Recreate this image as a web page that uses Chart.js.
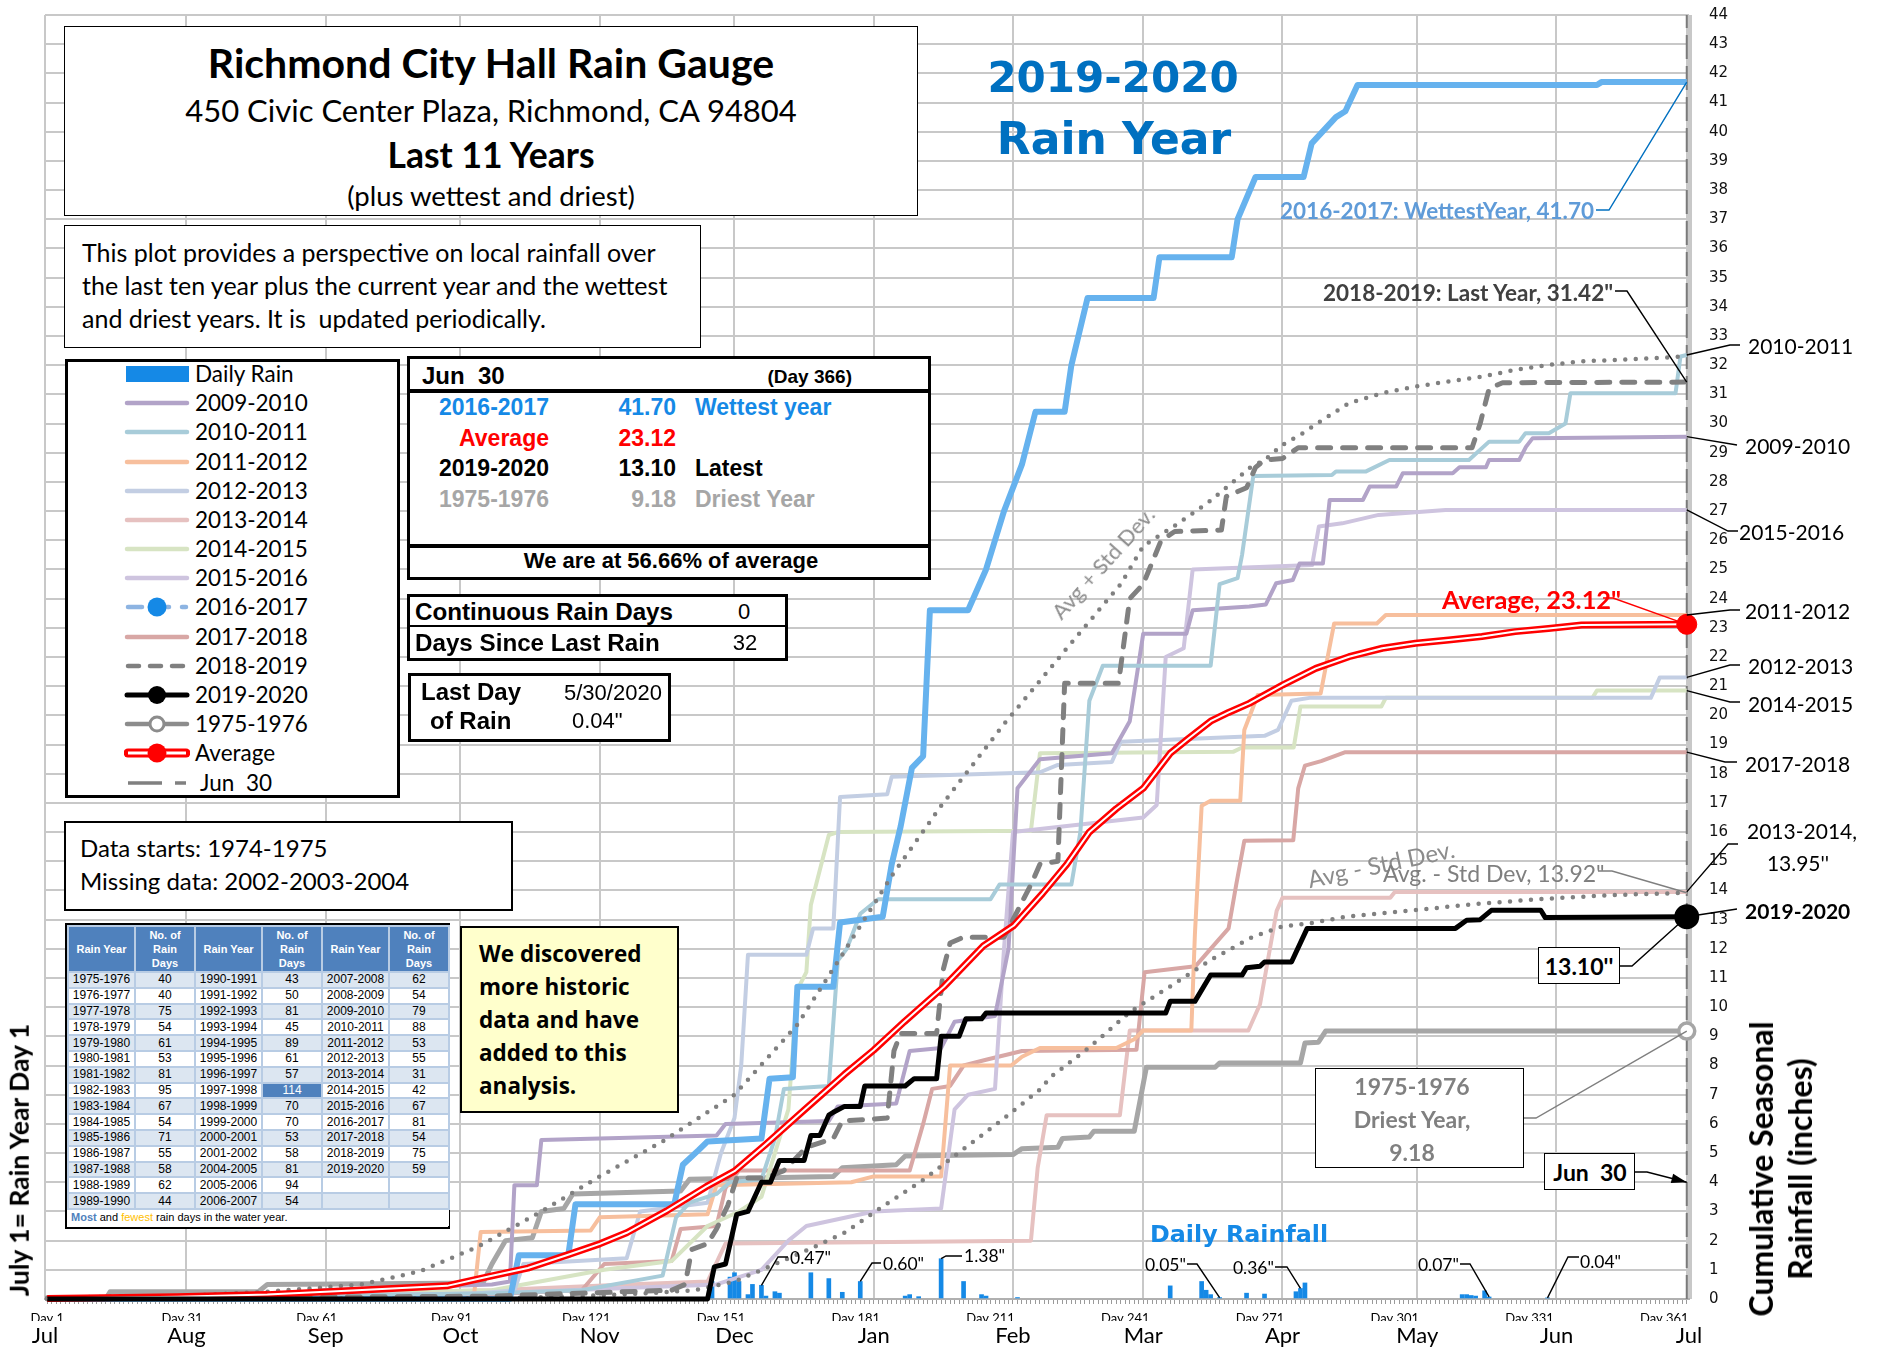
<!DOCTYPE html>
<html>
<head>
<meta charset="utf-8">
<title>Richmond City Hall Rain Gauge 2019-2020</title>
<script src="https://cdn.jsdelivr.net/npm/chart.js@4.4.1/dist/chart.umd.min.js"></script>
<style>
  body { margin: 0; background: #fff; }
  #page { position: relative; width: 1880px; height: 1356px; overflow: hidden; font-family: Lato, sans-serif; color: #000; }
  #chart { position: absolute; left: 0; top: 0; }
  .box { position: absolute; background: #fff; border: 1.5px solid #000; box-sizing: border-box; }
  .thick { border-width: 3px; }
  .t { position: absolute; white-space: pre; line-height: 1; }
  .rule { position: absolute; background: #000; }
  #legend .row { position: absolute; left: 0; height: 24px; width: 330px; }
  #legend svg { position: absolute; left: 56px; top: 0; }
  #legend span { position: absolute; left: 127px; top: 0; font-size: 22.5px; line-height: 24px; white-space: pre; }
  #tbl { position: absolute; left: 65px; top: 923px; width: 385px; height: 306px; border: 2px solid #000; box-sizing: border-box; background: #fff; }
  #tbl table { border-collapse: collapse; width: 100%; table-layout: fixed; font-family: 'Liberation Sans', Arial, sans-serif; font-size: 12px; }
  #tbl th { background: #4f81bd; color: #fff; font-size: 11px; line-height: 14px; height: 44px; padding: 0; border: 2px solid #b8cce4; }
  #tbl td { height: 13.8px; line-height: 13px; padding: 0; text-align: center; border: 2px solid #b8cce4; }
  #tbl tr.odd td { background: #dce6f1; }
  #tbl td.most { background: #4f81bd; color: #fff; }
  #tbl td.fewest { background: #ffc000; }
  #tbl td.foot { text-align: left; padding-left: 3px; font-size: 11px; background: #fff; border: none; height: 16px; }
</style>
</head>
<body>
<div id="page">
  <canvas id="chart" width="1880" height="1356"></canvas>

  <div class="box" style="left:64px;top:26px;width:854px;height:190px;"></div>
  <div class="box" style="left:64px;top:225px;width:637px;height:123px;"></div>
  <div class="box thick" id="legend" style="left:65px;top:359px;width:335px;height:439px;"></div>
  <div class="box thick" style="left:407px;top:356px;width:524px;height:224px;"></div>
  <div class="rule" style="left:410px;top:389px;width:518px;height:4px;"></div>
  <div class="rule" style="left:410px;top:544px;width:518px;height:4px;"></div>
  <div class="box thick" style="left:407px;top:594px;width:381px;height:67px;"></div>
  <div class="rule" style="left:410px;top:625px;width:375px;height:2px;"></div>
  <div class="box thick" style="left:408px;top:673px;width:263px;height:69px;"></div>
  <div class="box" style="left:64px;top:821px;width:449px;height:90px;border-width:2.5px;"></div>
  <div id="tbl"></div>
  <div class="box" style="left:460px;top:926px;width:219px;height:187px;background:#ffffcc;border-width:2px;"></div>
  <div class="box" style="left:1538px;top:947px;width:82px;height:37px;"></div>
  <div class="box" style="left:1315px;top:1068px;width:209px;height:100px;"></div>
  <div class="box" style="left:1544px;top:1153px;width:91px;height:37px;"></div>
</div>

<script>
// ---------- values ----------
const monthNames = ['Jul', 'Aug', 'Sep', 'Oct', 'Nov', 'Dec', 'Jan', 'Feb', 'Mar', 'Apr', 'May', 'Jun', 'Jul'];
const monthStartDays = [0.5, 32, 63, 93, 124, 154, 185, 216, 245, 276, 306, 337, 366.5];
const dayLabelDays = [1, 31, 61, 91, 121, 151, 181, 211, 241, 271, 301, 331, 361];

// cumulative seasonal rainfall, [rain-year day, inches]
const y1975_76 = [[1,0],[14,0],[15,0.25],[48,0.25],[50,0.5],[98,0.55],[100,1.2],[103,2.0],[109,2.1],[111,3.0],[116,3.1],[118,3.6],[142,3.7],[144,4.1],[176,4.2],[178,4.5],[190,4.6],[192,4.9],[216,4.95],[218,5.15],[226,5.2],[227,5.5],[233,5.55],[234,5.75],[243,5.75],[245.7,7.94],[261,7.94],[262,8.09],[280,8.09],[281,8.77],[284,8.8],[285.6,9.18],[366,9.18]];
const y2009_10 = [[1,0],[60,0],[62,0.3],[100,0.5],[104,0.6],[105,3.9],[110,3.9],[111,5.45],[150,5.6],[152,6.0],[175,6.1],[177,6.6],[190,6.7],[193,8.5],[200,8.6],[203,9.5],[212,9.7],[215,12],[217,17.5],[222,18.5],[238,18.7],[242,19.8],[245,22.8],[254.6,22.8],[256,23.6],[268.6,23.73],[272.3,23.8],[274.6,24.53],[278.3,24.64],[279.8,25.2],[285,25.2],[286.5,27.38],[293.9,27.38],[295.4,27.84],[301.3,27.84],[302.8,28.3],[313.9,28.3],[315.4,28.5],[321.3,28.5],[322,28.75],[328.7,28.75],[330.2,29.2],[331.7,29.5],[366,29.55]];
const y2010_11 = [[1,0],[60,0.1],[100,0.2],[120,0.3],[138,0.8],[141,2.8],[144,3.3],[150,3.6],[153,4.0],[160,4.1],[163,5.5],[165,7.2],[175,7.3],[177,11.6],[179,12.0],[182,13.2],[186,13.7],[211,13.7],[213,14.2],[229,14.2],[231,16.0],[233,20.5],[236,21.7],[260,21.7],[262,24.5],[266,24.7],[267,25.5],[269.5,28.2],[287,28.24],[287.9,28.36],[294.6,28.36],[299.8,28.75],[317.5,28.75],[322,29.38],[328.7,29.38],[330.1,29.67],[335.3,29.67],[339,30.0],[340.1,31.04],[363.5,31.04],[364.6,32.3],[366,32.35]];
const y2011_12 = [[1,0],[60,0.05],[96,0.1],[97.5,2.3],[122,2.35],[124,2.8],[148,2.9],[150,3.9],[180,4.0],[185,4.2],[200,4.2],[202,8.0],[215.6,8.0],[218,8.3],[222,8.6],[239,8.6],[243,8.9],[245,9.2],[255.7,9.2],[256.5,12.5],[258,16.9],[260,17.07],[266.6,17.07],[267.5,19.5],[270.5,20.7],[284.5,20.75],[287.5,23.15],[297,23.15],[299,23.44],[366,23.44]];
const y2012_13 = [[1,0],[90,0.1],[105,0.3],[107,1.2],[130,1.4],[133,3.0],[148,3.3],[151,5.0],[154,6.2],[155.5,8],[157,11.8],[170,11.8],[171.5,12.7],[176,12.7],[177.5,17.2],[188,17.3],[189,17.9],[222,18.05],[226,18.3],[238,18.4],[240,19.1],[272,19.3],[275,19.5],[278,20.5],[282,20.6],[358,20.6],[360,21.3],[366,21.3]];
const y2013_14 = [[1,0],[100,0.3],[130,0.5],[148,0.6],[152,1.9],[220,2.0],[221.5,4.5],[223.5,6.3],[239.8,6.3],[242,9.2],[268.4,9.2],[271,10.1],[274.7,13.3],[276,13.75],[300,13.75],[301,13.95],[366,13.95]];
const y2014_15 = [[1,0],[100,0.3],[125,1.0],[140,1.3],[148,2.5],[155,3.0],[160,3.5],[163,5.0],[166,6.5],[168,10.6],[170,11.2],[171,13.5],[173,14.7],[175,15.9],[177,16.0],[220,16.05],[222,18.7],[265,18.75],[267,18.9],[278.5,18.9],[280,20.3],[298,20.3],[299,20.6],[345,20.6],[346,20.85],[366,20.85]];
const y2015_16 = [[1,0],[100,0.2],[150,0.5],[160,1.0],[166,2.0],[170,2.5],[185,3.0],[200,3.1],[203,6.5],[206,7.0],[212,7.2],[214,12],[216,16.0],[245,16.5],[248,16.93],[250,22.0],[254,22.3],[256,25.0],[282.6,25.15],[284.1,26.47],[289.3,26.58],[297.4,26.87],[312.3,27.04],[366,27.04]];
const y2016_17 = [[1,0],[104,0],[106,1.5],[117,1.5],[118.6,3.25],[140.6,3.25],[142.5,4.6],[146,5.1],[148,5.4],[160,5.5],[161.8,7.55],[167,7.6],[168,10.7],[176,10.7],[177.5,12.9],[187,13.1],[189,14.9],[191,16.2],[193.5,18.2],[196,18.6],[197.5,23.6],[206,23.6],[210,25.0],[214,27.0],[218,28.6],[221,30.4],[227.5,30.4],[229,32.0],[232.6,34.3],[247.3,34.3],[248.6,35.7],[264.7,35.7],[266,37.0],[270,38.45],[280.7,38.45],[282.5,39.6],[287.9,40.5],[290,40.7],[292.7,41.6],[346,41.6],[347,41.7],[366,41.7]];
const y2017_18 = [[1,0],[90,0.1],[120,0.3],[125,1.2],[140,1.3],[142,2.4],[150,2.5],[152,3.8],[155,4.4],[193,4.4],[196,6.0],[198,7.2],[202,7.3],[205,8.0],[210,8.2],[218,8.5],[243.5,8.54],[245.3,11.2],[256.6,11.4],[260,12.0],[264,12.7],[265.7,14.2],[267.5,15.7],[278.4,15.72],[279.5,17.5],[281,18.28],[284.6,18.43],[290,18.74],[366,18.74]];
const y2018_19 = [[1,0],[100,0.1],[140,0.3],[143,0.5],[144.5,1.7],[148,1.9],[150,2.4],[152.5,3.2],[154.5,4.15],[161,4.15],[165,4.4],[170,5.2],[176,5.5],[178,6.1],[188,6.2],[189.5,8.5],[191,9.1],[199,9.1],[200.5,11.3],[202,12.2],[205,12.4],[214,12.4],[216,13.0],[220,14.2],[222,14.9],[226,15.0],[227.5,21.1],[239.5,21.1],[242,24.0],[245,24.5],[249,26.0],[252,26.3],[262.4,26.35],[263.5,27.5],[268,27.8],[270,28.5],[272,28.75],[276,28.8],[279.5,29.17],[318.2,29.17],[320,30.0],[322,31.2],[325,31.4],[366,31.42]];
const y2019_20 = [[1,0],[148,0],[149.5,1.1],[152,1.2],[154.5,2.9],[157,3.0],[160,4.0],[162,4.0],[164,4.75],[169.5,4.75],[171,5.6],[173,5.6],[175,6.3],[176,6.4],[178.5,6.6],[182,6.6],[183,7.3],[192,7.3],[194,7.55],[199,7.55],[200,9.0],[204,9.0],[205.5,9.6],[209,9.6],[210,9.8],[250,9.8],[251,10.2],[256.5,10.2],[260,11.1],[267,11.1],[268,11.35],[271,11.4],[272,11.55],[278,11.55],[281.5,12.7],[314.5,12.7],[317,12.98],[320,13.0],[322.5,13.32],[333.5,13.32],[334.5,13.07],[366,13.1]];
const avgSeason = [[1,0.02],[30,0.08],[50,0.15],[70,0.3],[90,0.45],[99,0.76],[108,1.06],[116.8,1.51],[124,1.89],[130,2.27],[138.9,3.02],[147.7,3.85],[154,4.38],[160.9,5.29],[169.7,6.5],[178.5,7.7],[185,8.53],[191.8,9.5],[200.6,10.7],[209.4,12.1],[216.2,12.8],[222.6,13.9],[228,14.9],[233,16.0],[239,16.8],[245,17.5],[251,18.7],[255,19.2],[260,19.8],[264,20.1],[268.6,20.41],[276,21.04],[283.4,21.61],[290.8,22.01],[298.2,22.3],[305.6,22.47],[313,22.58],[320.4,22.7],[327.8,22.87],[335.2,22.98],[342.6,23.1],[366,23.12]];
const avgPlusSd = [[1,0.05],[30,0.1],[50,0.25],[71,0.5],[84,0.95],[97,1.8],[111,3.0],[124,4.2],[138,5.4],[154,7.0],[168,9.4],[178,11.8],[189,14.5],[200,16.9],[214,19.7],[228,22.3],[234,23.4],[240,24.5],[245,25.8],[252,26.5],[259.5,27.3],[266.6,28.2],[268.6,28.47],[272,28.75],[276,29.27],[280.5,29.67],[285,30.13],[290.8,30.7],[298.2,31.04],[305.6,31.27],[313,31.44],[320.4,31.61],[327.8,31.84],[335.2,32.01],[342.6,32.13],[350,32.18],[366,32.3]];
const avgMinusSd = [[1,0],[100,0.02],[120,0.1],[135,0.2],[145,0.3],[154,0.6],[161,1.06],[170,1.66],[178.5,2.27],[187,3.17],[196,4.08],[205,5.14],[214,6.19],[222.6,7.25],[224,7.56],[233,8.62],[242,9.83],[245,10.13],[251.2,10.73],[260.2,11.64],[269.3,12.4],[276,12.77],[282,12.87],[290,13.1],[305,13.32],[320,13.55],[335,13.72],[349,13.84],[366,13.92]];
const jun30Line = [[366,0],[366,44]];

// 2019-2020 daily rain
const dailyRainDays = [149, 153, 154, 155, 157, 158, 160, 161, 163, 164, 171, 175, 178, 182, 192, 193, 195, 200, 205, 209, 210, 217, 251, 258, 259, 260, 262, 268, 272, 279, 280, 281, 316, 317, 318, 319, 321, 322, 335];
const dailyRainInches = [0.6, 0.75, 0.9, 0.6, 0.15, 0.5, 0.47, 0.1, 0.25, 0.2, 0.9, 0.7, 0.23, 0.6, 0.1, 0.15, 0.08, 1.38, 0.6, 0.15, 0.1, 0.05, 0.45, 0.6, 0.3, 0.15, 0.05, 0.2, 0.17, 0.25, 0.36, 0.55, 0.15, 0.15, 0.12, 0.1, 0.28, 0.07, 0.04];

// rain days per water year (table)
const tableYears = ['1975-1976','1976-1977','1977-1978','1978-1979','1979-1980','1980-1981','1981-1982','1982-1983','1983-1984','1984-1985','1985-1986','1986-1987','1987-1988','1988-1989','1989-1990',
  '1990-1991','1991-1992','1992-1993','1993-1994','1994-1995','1995-1996','1996-1997','1997-1998','1998-1999','1999-2000','2000-2001','2001-2002','2004-2005','2005-2006','2006-2007',
  '2007-2008','2008-2009','2009-2010','2010-2011','2011-2012','2012-2013','2013-2014','2014-2015','2015-2016','2016-2017','2017-2018','2018-2019','2019-2020','',''];
const tableRainDays = [40,40,75,54,61,53,81,95,67,54,71,55,58,62,44,
  43,50,81,45,89,61,57,114,70,70,53,58,81,94,54,
  62,54,79,88,53,55,31,42,67,81,54,75,59,null,null];

// ---------- styles ----------
const dailyBlue = '#1589e6';
const st = {
  '1975-1976': { color: '#a6a6a6', width: 5 },
  '2009-2010': { color: '#b2a3c8', width: 4 },
  '2010-2011': { color: '#a8ccd9', width: 4 },
  '2011-2012': { color: '#f7bf9d', width: 4 },
  '2012-2013': { color: '#c3cee3', width: 4 },
  '2013-2014': { color: '#e6c1c0', width: 4 },
  '2014-2015': { color: '#d7e4c3', width: 4 },
  '2015-2016': { color: '#cec4df', width: 4 },
  '2016-2017': { color: '#66b2ee', width: 6 },
  '2017-2018': { color: '#d8a7a5', width: 4 },
  '2018-2019': { color: '#808080', width: 5, dash: [13, 12], cap: 'round' },
  '2019-2020': { color: '#000000', width: 5 },
};

const pts = s => s.map(([x, y]) => ({ x, y }));
const lastOf = s => s[s.length - 1];
const isLast = c => c.dataIndex === c.dataset.data.length - 1;

function lineSet(label, data, s, extra) {
  return Object.assign({
    type: 'line', label, data: pts(data),
    borderColor: s.color, borderWidth: s.width, borderDash: s.dash || [],
    borderCapStyle: s.cap || 'butt', borderJoinStyle: 'round',
    pointRadius: 0, fill: false, tension: 0, clip: false
  }, extra || {});
}

// first dataset is drawn on top
const datasets = [
  lineSet('2019-2020', y2019_20, st['2019-2020'], {
    pointRadius: c => isLast(c) ? 10 : 0, pointBackgroundColor: '#000', pointBorderColor: '#000'
  }),
  { type: 'line', label: 'Average marker', data: pts([lastOf(avgSeason)]), showLine: false,
    pointRadius: 10, pointBackgroundColor: '#ff0000', pointBorderColor: '#ff0000', clip: false },
  lineSet('Average inner', avgSeason, { color: '#ffffff', width: 2 }),
  lineSet('Average', avgSeason, { color: '#ff0000', width: 7 }),
  lineSet('2018-2019', y2018_19, st['2018-2019']),
  lineSet('Avg + Std Dev', avgPlusSd, { color: '#808080', width: 4.5, dash: [0, 10.5], cap: 'round' }),
  lineSet('Avg - Std Dev', avgMinusSd, { color: '#808080', width: 4.5, dash: [0, 10.5], cap: 'round' }),
  lineSet('2016-2017', y2016_17, st['2016-2017']),
  lineSet('2010-2011', y2010_11, st['2010-2011']),
  lineSet('2009-2010', y2009_10, st['2009-2010']),
  lineSet('2015-2016', y2015_16, st['2015-2016']),
  lineSet('2011-2012', y2011_12, st['2011-2012']),
  lineSet('2012-2013', y2012_13, st['2012-2013']),
  lineSet('2014-2015', y2014_15, st['2014-2015']),
  lineSet('2017-2018', y2017_18, st['2017-2018']),
  lineSet('2013-2014', y2013_14, st['2013-2014']),
  lineSet('1975-1976', y1975_76, st['1975-1976'], {
    pointRadius: c => isLast(c) ? 8 : 0, pointBorderWidth: 3.5,
    pointBackgroundColor: '#ffffff', pointBorderColor: '#a6a6a6'
  }),
  lineSet('Jun 30', jun30Line, { color: '#7a7a7a', width: 2, dash: [24, 7] }),
  { type: 'bar', label: 'Daily Rain', data: dailyRainDays.map((d, i) => ({ x: d, y: dailyRainInches[i] })),
    backgroundColor: dailyBlue, borderWidth: 0, barThickness: 4 }
];

// leader lines: pixel points near the label, then the data point they point at
const barAt = d => [d, dailyRainInches[dailyRainDays.indexOf(d)]];
const leaders = [
  { from: [[1596, 210], [1609, 210]], to: lastOf(y2016_17), color: '#0070c0' },
  { from: [[1615, 291], [1627, 291]], to: lastOf(y2018_19) },
  { from: [[1740, 345], [1730, 345]], to: lastOf(y2010_11) },
  { from: [[1737, 445]], to: lastOf(y2009_10) },
  { from: [[1738, 531], [1728, 531]], to: lastOf(y2015_16) },
  { from: [[1603, 598], [1613, 598]], to: lastOf(avgSeason), color: '#ff0000' },
  { from: [[1740, 610], [1730, 610]], to: lastOf(y2011_12) },
  { from: [[1740, 665], [1730, 665]], to: lastOf(y2012_13) },
  { from: [[1740, 702], [1730, 702]], to: lastOf(y2014_15) },
  { from: [[1737, 762], [1725, 762]], to: lastOf(y2017_18) },
  { from: [[1738, 844], [1728, 844]], to: lastOf(y2013_14) },
  { from: [[1598, 871], [1612, 871]], to: lastOf(avgMinusSd), color: '#7f7f7f' },
  { from: [[1737, 909]], to: lastOf(y2019_20) },
  { from: [[1620, 966], [1632, 966]], to: lastOf(y2019_20) },
  { from: [[1524, 1118], [1536, 1118]], to: lastOf(y1975_76), color: '#7f7f7f' },
  { from: [[1635, 1172], [1647, 1172]], to: [366, 4], arrow: true },
  { from: [[788, 1257], [778, 1257]], to: barAt(160) },
  { from: [[881, 1263], [872, 1263]], to: barAt(182) },
  { from: [[962, 1256], [946, 1256]], to: barAt(200) },
  { from: [[1187, 1264], [1197, 1264]], to: barAt(262) },
  { from: [[1275, 1267], [1287, 1267]], to: barAt(280) },
  { from: [[1460, 1264], [1470, 1264]], to: barAt(322) },
  { from: [[1579, 1257], [1568, 1257]], to: barAt(335) }
];

const leaderPlugin = {
  id: 'leaders',
  afterDatasetsDraw(chart) {
    const { ctx, scales } = chart;
    leaders.forEach(l => {
      const end = [scales.x.getPixelForValue(l.to[0]), scales.y.getPixelForValue(l.to[1])];
      const path = l.from.concat([end]);
      ctx.save();
      ctx.strokeStyle = l.color || '#000';
      ctx.fillStyle = l.color || '#000';
      ctx.lineWidth = 1.4;
      ctx.beginPath();
      path.forEach((p, i) => i ? ctx.lineTo(p[0], p[1]) : ctx.moveTo(p[0], p[1]));
      ctx.stroke();
      if (l.arrow) {
        const p = path[path.length - 2];
        const a = Math.atan2(end[1] - p[1], end[0] - p[0]);
        ctx.beginPath();
        ctx.moveTo(end[0], end[1]);
        ctx.lineTo(end[0] - 16 * Math.cos(a - 0.3), end[1] - 16 * Math.sin(a - 0.3));
        ctx.lineTo(end[0] - 16 * Math.cos(a + 0.3), end[1] - 16 * Math.sin(a + 0.3));
        ctx.closePath();
        ctx.fill();
      }
      ctx.restore();
    });
  }
};

new Chart(document.getElementById('chart').getContext('2d'), {
  type: 'line',
  data: { datasets },
  options: {
    responsive: false,
    animation: false,
    devicePixelRatio: 1,
    layout: { padding: { left: 45, top: 15, right: 0, bottom: 0 } },
    plugins: { legend: { display: false }, tooltip: { enabled: false } },
    scales: {
      x: {
        type: 'linear', position: 'bottom', min: 0.5, max: 366.5, offset: false, weight: 1,
        afterBuildTicks: a => { a.ticks = monthStartDays.map(v => ({ value: v })); },
        afterFit: a => { a.height = 35; },
        ticks: {
          autoSkip: false, maxRotation: 0, padding: 2, color: '#000',
          font: { family: 'Lato', size: 22 },
          callback: (v, i) => monthNames[i]
        },
        grid: {
          offset: false, drawTicks: false, color: '#c8c8c8',
          lineWidth: c => c.index === monthStartDays.length - 1 ? 6 : 2
        },
        border: { display: false }
      },
      xd: {
        type: 'linear', position: 'bottom', min: 0.5, max: 366.5, offset: false, weight: 0,
        afterBuildTicks: a => { a.ticks = Array.from({ length: 366 }, (_, i) => ({ value: i + 1 })); },
        afterFit: a => { a.height = 22; },
        ticks: {
          autoSkip: false, maxRotation: 0, padding: 7, color: '#000',
          font: { family: 'Lato', size: 13 },
          callback: v => dayLabelDays.includes(v) ? 'Day ' + v : ''
        },
        grid: { offset: false, drawOnChartArea: false, drawTicks: true, tickLength: 5, color: '#9a9a9a', lineWidth: 1 },
        border: { display: true, color: '#b0b0b0', width: 2 }
      },
      y: {
        type: 'linear', position: 'right', min: 0, max: 44,
        afterFit: a => { a.width = 191; },
        ticks: { stepSize: 1, padding: 0, color: '#111', font: { family: 'DejaVu Sans', size: 15 } },
        grid: { drawTicks: true, tickLength: 20, tickColor: 'rgba(0,0,0,0)', color: '#c8c8c8', lineWidth: 2 },
        border: { display: false }
      }
    }
  },
  plugins: [leaderPlugin]
});

// ---------- text overlays ----------
const page = document.getElementById('page');
function note(n) {
  const el = document.createElement('div');
  el.className = 't';
  el.textContent = n.t;
  el.style.left = n.x + 'px';
  el.style.top = n.y + 'px';
  el.style.fontSize = (n.s || 21) + 'px';
  el.style.fontFamily = n.f || 'Lato';
  el.style.fontWeight = n.w || 400;
  el.style.color = n.c || '#000';
  const shift = n.a === 'c' ? 'translate(-50%,-50%)' : n.a === 'r' ? 'translate(-100%,-50%)' : 'translateY(-50%)';
  el.style.transform = shift + (n.rot ? ' rotate(' + n.rot + 'deg)' : '');
  if (n.lh) el.style.lineHeight = n.lh + 'px';
  if (n.a === 'c') el.style.textAlign = 'center';
  page.appendChild(el);
}

const arial = "'Liberation Sans', Arial, sans-serif";
const dejavu = "'DejaVu Sans', Verdana, sans-serif";
const notes = [
  // title box
  { t: 'Richmond City Hall Rain Gauge', x: 491, y: 62, s: 41, w: 700, a: 'c' },
  { t: '450 Civic Center Plaza, Richmond, CA 94804', x: 491, y: 110, s: 31, a: 'c' },
  { t: 'Last 11 Years', x: 491, y: 155, s: 35.5, w: 700, a: 'c' },
  { t: '(plus wettest and driest)', x: 491, y: 196, s: 27.5, a: 'c' },
  // description
  { t: 'This plot provides a perspective on local rainfall over', x: 82, y: 252, s: 25 },
  { t: 'the last ten year plus the current year and the wettest', x: 82, y: 285, s: 25 },
  { t: 'and driest years. It is  updated periodically.', x: 82, y: 318, s: 25 },
  // big heading
  { t: '2019-2020', x: 1113, y: 78, s: 42, f: dejavu, w: 700, c: '#0070c0', a: 'c' },
  { t: 'Rain Year', x: 1114, y: 139, s: 44, f: dejavu, w: 700, c: '#0070c0', a: 'c' },
  // Jun 30 summary box
  { t: 'Jun  30', x: 422, y: 376, s: 24, f: arial, w: 700 },
  { t: '(Day 366)', x: 852, y: 376, s: 19, f: arial, w: 700, a: 'r' },
  { t: '2016-2017', x: 549, y: 407, s: 23, f: arial, w: 700, c: dailyBlue, a: 'r' },
  { t: '41.70', x: 676, y: 407, s: 23, f: arial, w: 700, c: dailyBlue, a: 'r' },
  { t: 'Wettest year', x: 695, y: 407, s: 23, f: arial, w: 700, c: dailyBlue },
  { t: 'Average', x: 549, y: 438, s: 23, f: arial, w: 700, c: '#ff0000', a: 'r' },
  { t: '23.12', x: 676, y: 438, s: 23, f: arial, w: 700, c: '#ff0000', a: 'r' },
  { t: '2019-2020', x: 549, y: 468, s: 23, f: arial, w: 700, a: 'r' },
  { t: '13.10', x: 676, y: 468, s: 23, f: arial, w: 700, a: 'r' },
  { t: 'Latest', x: 695, y: 468, s: 23, f: arial, w: 700 },
  { t: '1975-1976', x: 549, y: 499, s: 23, f: arial, w: 700, c: '#a6a6a6', a: 'r' },
  { t: '9.18', x: 676, y: 499, s: 23, f: arial, w: 700, c: '#a6a6a6', a: 'r' },
  { t: 'Driest Year', x: 695, y: 499, s: 23, f: arial, w: 700, c: '#a6a6a6' },
  { t: 'We are at 56.66% of average', x: 671, y: 561, s: 22, f: arial, w: 700, a: 'c' },
  { t: 'Continuous Rain Days', x: 415, y: 612, s: 24.2, f: arial, w: 700 },
  { t: '0', x: 744, y: 612, s: 22, f: arial, a: 'c' },
  { t: 'Days Since Last Rain', x: 415, y: 643, s: 24.2, f: arial, w: 700 },
  { t: '32', x: 745, y: 643, s: 22, f: arial, a: 'c' },
  { t: 'Last Day', x: 421, y: 692, s: 24, f: arial, w: 700 },
  { t: 'of Rain', x: 430, y: 721, s: 24, f: arial, w: 700 },
  { t: '5/30/2020', x: 564, y: 693, s: 22, f: arial },
  { t: '0.04"', x: 572, y: 721, s: 22, f: arial },
  // data notes
  { t: 'Data starts: 1974-1975', x: 80, y: 848, s: 24 },
  { t: 'Missing data: 2002-2003-2004', x: 80, y: 881, s: 24 },
  { t: 'We discovered\nmore historic\ndata and have\nadded to this\nanalysis.', x: 479, y: 1019, s: 22.5, f: "'Open Sans', sans-serif", w: 700, lh: 33 },
  // axis titles
  { t: 'July 1= Rain Year Day 1', x: 19, y: 1160, s: 26.5, w: 700, a: 'c', rot: -90 },
  { t: 'Cumulative Seasonal\nRainfall (inches)', x: 1780, y: 1169, s: 32, w: 700, a: 'c', rot: -90, lh: 39 },
  // right-hand series names
  { t: '2010-2011', x: 1748, y: 345 },
  { t: '2009-2010', x: 1745, y: 445 },
  { t: '2015-2016', x: 1739, y: 531 },
  { t: '2011-2012', x: 1745, y: 610 },
  { t: '2012-2013', x: 1748, y: 665 },
  { t: '2014-2015', x: 1748, y: 703 },
  { t: '2017-2018', x: 1745, y: 763 },
  { t: '2013-2014,', x: 1747, y: 830 },
  { t: "13.95''", x: 1798, y: 862, a: 'c' },
  { t: '2019-2020', x: 1745, y: 910, w: 700 },
  // callouts
  { t: '2016-2017: WettestYear, 41.70', x: 1280, y: 211, s: 22.5, c: '#5f9bd8', w: 700 },
  { t: '2018-2019: Last Year, 31.42"', x: 1323, y: 293, s: 22.5, c: '#404040', w: 700 },
  { t: 'Average, 23.12"', x: 1442, y: 600, s: 25.4, c: '#ff0000', w: 700 },
  { t: 'Avg + Std Dev.', x: 1103, y: 563, s: 22, c: '#8c8c8c', a: 'c', rot: -48 },
  { t: 'Avg - Std Dev.', x: 1381, y: 864, s: 24, c: '#8c8c8c', a: 'c', rot: -12 },
  { t: 'Avg. - Std Dev, 13.92"', x: 1383, y: 873, s: 23, c: '#7f7f7f' },
  { t: "13.10''", x: 1579, y: 966, s: 23, w: 700, a: 'c' },
  { t: '1975-1976\nDriest Year,\n9.18', x: 1412, y: 1119, s: 23, w: 700, c: '#808080', a: 'c', lh: 33 },
  { t: 'Jun  30', x: 1590, y: 1172, s: 23, w: 700, a: 'c' },
  { t: 'Daily Rainfall', x: 1150, y: 1235, s: 23.8, f: dejavu, w: 700, c: dailyBlue },
  { t: '0.47"', x: 790, y: 1258, s: 17.5 },
  { t: '0.60"', x: 883, y: 1264, s: 17.5 },
  { t: '1.38"', x: 964, y: 1256, s: 17.5 },
  { t: '0.05"', x: 1186, y: 1265, s: 17.5, a: 'r' },
  { t: '0.36"', x: 1274, y: 1268, s: 17.5, a: 'r' },
  { t: '0.07"', x: 1459, y: 1265, s: 17.5, a: 'r' },
  { t: '0.04"', x: 1580, y: 1262, s: 17.5 }
];
notes.forEach(note);

// ---------- legend ----------
const legendRows = [
  ['Daily Rain', '<rect x="2" y="4" width="63" height="16" fill="' + dailyBlue + '"/>'],
  ['2009-2010'], ['2010-2011'], ['2011-2012'], ['2012-2013'], ['2013-2014'], ['2014-2015'], ['2015-2016'],
  ['2016-2017', '<line x1="4" y1="12" x2="62" y2="12" stroke="#8db4e2" stroke-width="4.5" stroke-linecap="round" stroke-dasharray="14 13"/><circle cx="33" cy="12" r="9.5" fill="' + dailyBlue + '"/>'],
  ['2017-2018'],
  ['2018-2019', '<line x1="4" y1="12" x2="62" y2="12" stroke="#808080" stroke-width="4.5" stroke-linecap="round" stroke-dasharray="11 11"/>'],
  ['2019-2020', '<line x1="3" y1="12" x2="63" y2="12" stroke="#000" stroke-width="5" stroke-linecap="round"/><circle cx="33" cy="12" r="9" fill="#000"/>'],
  ['1975-1976', '<line x1="3" y1="12" x2="63" y2="12" stroke="#8c8c8c" stroke-width="4.5" stroke-linecap="round"/><circle cx="33" cy="12" r="7" fill="#fff" stroke="#8c8c8c" stroke-width="3"/>'],
  ['Average', '<line x1="4" y1="12" x2="62" y2="12" stroke="#ff0000" stroke-width="9" stroke-linecap="round"/><line x1="4" y1="12" x2="62" y2="12" stroke="#fff" stroke-width="3"/><circle cx="33" cy="12" r="9.5" fill="#ff0000"/>'],
  ['Jun  30', '<line x1="4" y1="12" x2="62" y2="12" stroke="#808080" stroke-width="3.5" stroke-dasharray="34 13"/>']
];
const legend = document.getElementById('legend');
legendRows.forEach(([name, svg], i) => {
  const s = st[name];
  const mark = svg || '<line x1="3" y1="12" x2="63" y2="12" stroke="' + s.color + '" stroke-width="4.5" stroke-linecap="round"/>';
  const row = document.createElement('div');
  row.className = 'row';
  row.style.top = (374 + i * 29.18 - 359 - 3 - 12) + 'px';
  row.innerHTML = '<svg width="66" height="24">' + mark + '</svg><span>' + (name === 'Jun  30' ? ' ' + name : name) + '</span>';
  legend.appendChild(row);
});

// ---------- rain-day table ----------
const counts = tableRainDays.filter(v => v !== null);
const most = Math.max(...counts), fewest = Math.min(...counts);
let html = '<table><colgroup>' + '<col style="width:67px"><col style="width:60px">'.repeat(3) + '</colgroup><tr>' +
  '<th>Rain Year</th><th>No. of<br>Rain<br>Days</th>'.repeat(3) + '</tr>';
for (let r = 0; r < 15; r++) {
  html += '<tr class="' + (r % 2 === 0 ? 'odd' : '') + '">';
  for (let g = 0; g < 3; g++) {
    const k = g * 15 + r;
    const v = tableRainDays[k];
    const cls = v === most ? 'most' : v === fewest ? 'fewest' : '';
    html += '<td>' + tableYears[k] + '</td><td class="' + cls + '">' + (v === null ? '' : v) + '</td>';
  }
  html += '</tr>';
}
html += '<tr><td class="foot" colspan="6"><b style="color:#4f81bd">Most</b> and <span style="color:#ffc000">fewest</span> rain days in the water year.</td></tr></table>';
document.getElementById('tbl').innerHTML = html;
</script>
</body>
</html>
